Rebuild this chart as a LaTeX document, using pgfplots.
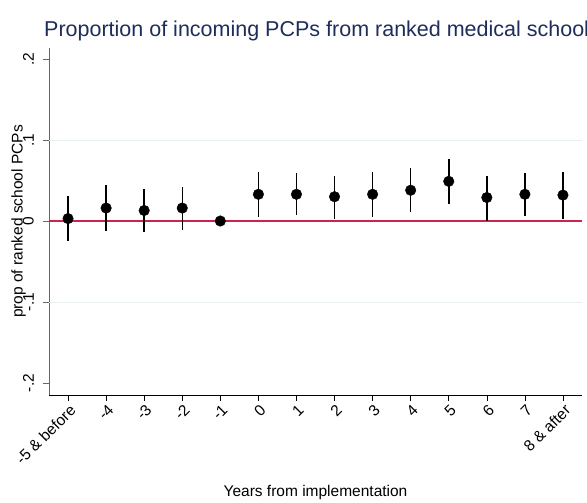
\documentclass[border=0pt]{standalone}
\usepackage{fontspec}
\setmainfont{Liberation Sans}
\usepackage{pgfplots}
\pgfplotsset{compat=1.18}
\usepackage{pgfplotstable}

\definecolor{titleblue}{RGB}{30,45,90}
\definecolor{refred}{RGB}{205,35,80}
\definecolor{gridc}{RGB}{232,240,242}

% event-study estimates: index, estimate, upper CI, lower CI
\pgfplotstableread{
x  y      hi     lo
0  0.003  0.031  -0.025
1  0.016  0.044  -0.012
2  0.013  0.040  -0.014
3  0.016  0.042  -0.011
4  0.000  0.000   0.000
5  0.033  0.060   0.005
6  0.033  0.059   0.007
7  0.030  0.056   0.003
8  0.033  0.060   0.005
9  0.038  0.065   0.011
10 0.049  0.077   0.021
11 0.029  0.056   0.000
12 0.033  0.059   0.006
13 0.032  0.060   0.003
}\coef

\begin{document}
\begin{tikzpicture}
\begin{axis}[
    at={(0,0)}, anchor=south west,
    scale only axis,
    width=533pt, height=347pt,
    xmin=-0.5, xmax=13.5,
    ymin=-0.2148, ymax=0.2136,
    axis x line*=bottom,
    axis y line*=left,
    x axis line style={black, line width=0.8pt, -},
    y axis line style={gray!80!black, line width=0.8pt, -},
    xtick={0,...,13},
    xticklabels={-5 \& before,-4,-3,-2,-1,0,1,2,3,4,5,6,7,8 \& after},
    ytick={-0.2,-0.1,0,0.1,0.2},
    yticklabels={-.2,-.1,0,.1,.2},
    tick align=outside,
    major tick length=6pt,
    x tick style={black, line width=0.6pt},
    y tick style={gray!80!black, line width=0.6pt},
    ticklabel style={font=\fontsize{15.5}{17}\selectfont},
    xticklabel style={rotate=45, anchor=north east, inner sep=1pt, yshift=-1pt},
    yticklabel style={rotate=90, anchor=south, inner sep=1pt},
    yticklabel shift=8pt,
    /pgf/number format/assume math mode=true,
    extra y ticks={-0.1,0.1},
    extra y tick labels={},
    extra y tick style={grid=major, major grid style={gridc, line width=1pt}, tick style={draw=none}},
    xlabel={Years from implementation},
    ylabel={prop of ranked school PCPs},
    label style={font=\fontsize{15.5}{18}\selectfont},
    xlabel style={at={(axis description cs:0.5,-0.2824)}, anchor=center},
    ylabel style={at={(axis description cs:-0.0572,0.5)}, anchor=center},
    clip=false,
]
\addplot[refred, line width=1.4pt, forget plot] coordinates {(-0.5,0) (13.5,0)};
\addplot[draw=none, mark=*, mark size=5.3pt, mark options={fill=black, draw=black},
    error bars/.cd, y dir=both, y explicit,
    error bar style={black, line width=1.5pt}, error mark=none]
    table[x=x, y=y, y error plus expr=\thisrow{hi}-\thisrow{y}, y error minus expr=\thisrow{y}-\thisrow{lo}] {\coef};
\end{axis}
\node[anchor=base west, text=titleblue, font=\fontsize{21.5}{25}\selectfont, inner sep=0pt] at (-5pt,358pt) {Proportion of incoming PCPs from ranked medical school};
\pgfresetboundingbox
\useasboundingbox (-49pt,-108pt) rectangle (538pt,395pt);
\end{tikzpicture}
\end{document}
